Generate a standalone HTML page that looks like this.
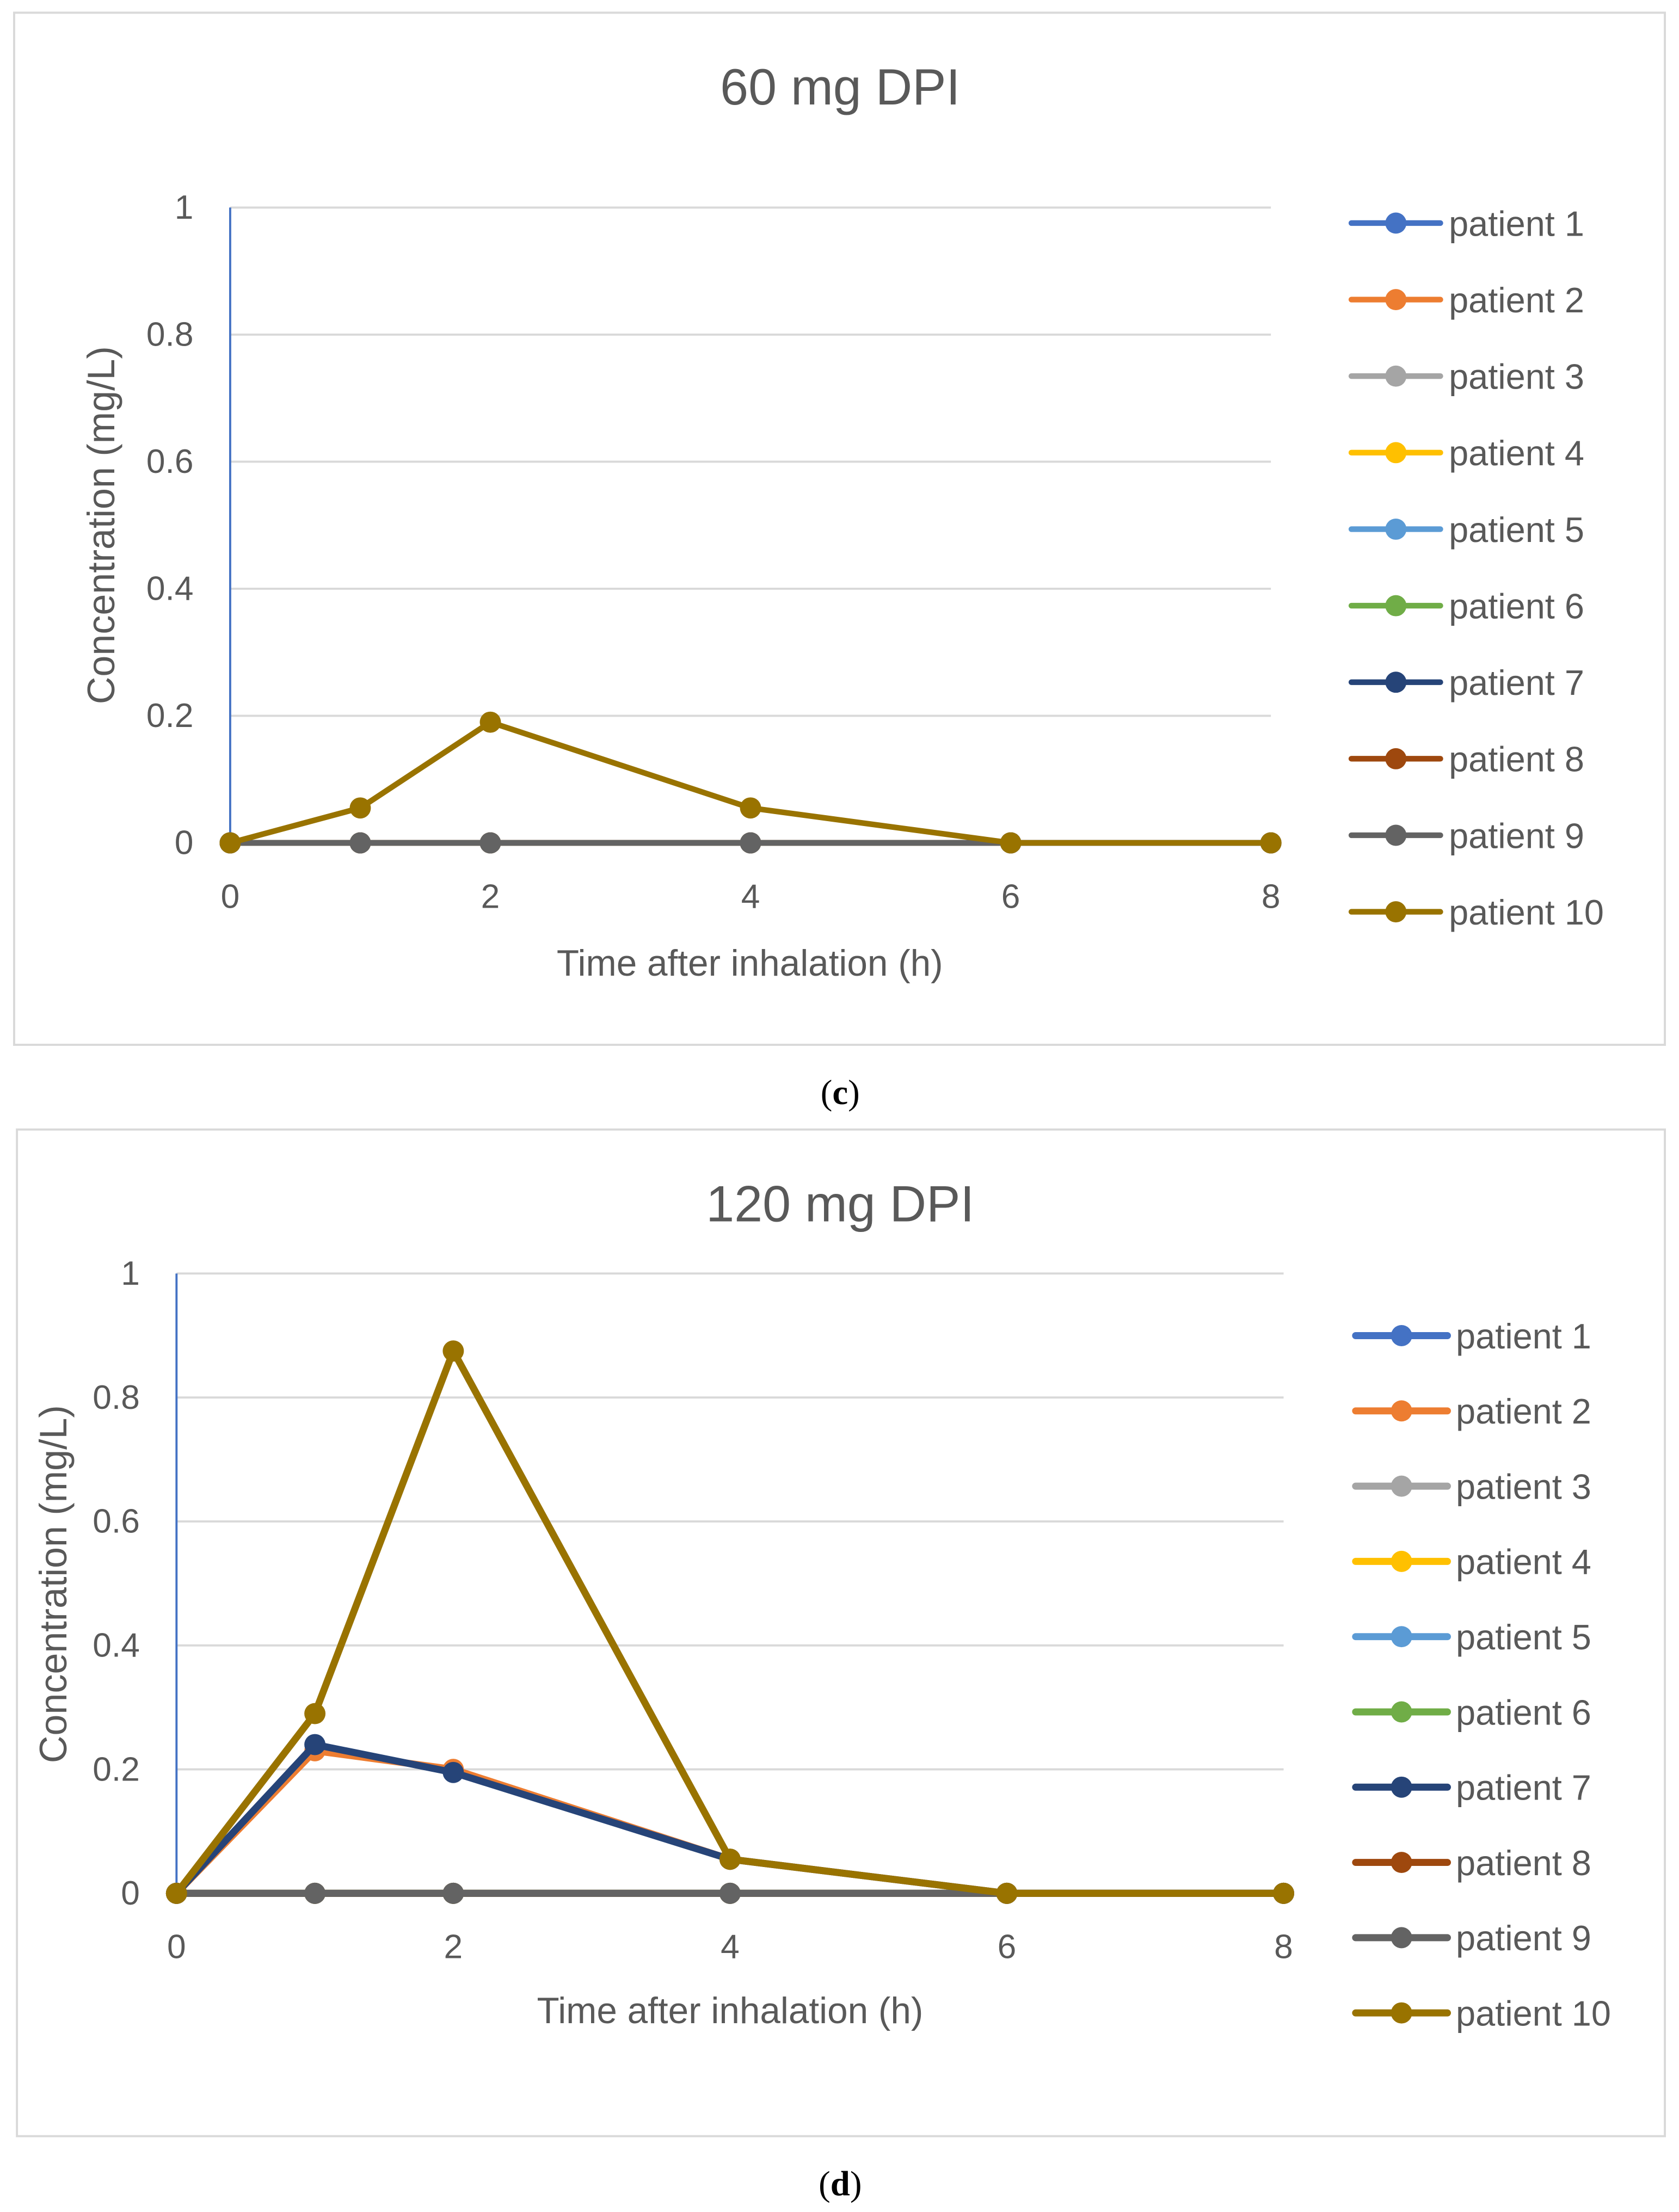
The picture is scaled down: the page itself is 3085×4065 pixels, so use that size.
<!DOCTYPE html>
<html><head><meta charset="utf-8"><style>
html,body{margin:0;padding:0;background:#fff;}
svg{display:block;}
text{font-family:"Liberation Sans",sans-serif;fill:#595959;}
</style></head><body>
<svg id="root" width="3085" height="4065" viewBox="0 0 1189 1566.7" preserveAspectRatio="none" xmlns="http://www.w3.org/2000/svg">
<rect x="0" y="0" width="1189" height="1567" fill="#fff"/>
<g id="chartC"></g>
<g id="chartD"></g>
<text x="595" y="782" text-anchor="middle" font-size="25" style="font-family:'Liberation Serif',serif;fill:#000">(<tspan font-weight="bold">c</tspan>)</text>
<text x="595" y="1555" text-anchor="middle" font-size="25" style="font-family:'Liberation Serif',serif;fill:#000">(<tspan font-weight="bold">d</tspan>)</text>
</svg>
<script>
const times = [0, 1, 2, 4, 6, 8];
const xTicks = [0, 2, 4, 6, 8];
const yTicks = [0, 0.2, 0.4, 0.6, 0.8, 1];
const yTickLabels = ["0", "0.2", "0.4", "0.6", "0.8", "1"];
const seriesNames = ["patient 1","patient 2","patient 3","patient 4","patient 5","patient 6","patient 7","patient 8","patient 9","patient 10"];
const seriesColors = ["#4472C4","#ED7D31","#A5A5A5","#FFC000","#5B9BD5","#70AD47","#264478","#9E480E","#636363","#997300"];
const zero = [0,0,0,0,0,0];
const c60_p10 = [0, 0.055, 0.19, 0.055, 0, 0];
const c120_p2 = [0, 0.23, 0.2, 0.055, 0, 0];
const c120_p7 = [0, 0.24, 0.195, 0.055, 0, 0];
const c120_p10 = [0, 0.29, 0.875, 0.055, 0, 0];
const valuesC = [zero,zero,zero,zero,zero,zero,zero,zero,zero,c60_p10];
const valuesD = [zero,c120_p2,zero,zero,zero,zero,c120_p7,zero,zero,c120_p10];

const NS = "http://www.w3.org/2000/svg";
function mk(parent, tag, attrs, txt){
  const e = document.createElementNS(NS, tag);
  for (const k in attrs) e.setAttribute(k, attrs[k]);
  if (txt !== undefined) e.textContent = txt;
  parent.appendChild(e);
  return e;
}

function drawChart(g, cfg, values){
  let e;
  e = mk(g, "rect", {x:cfg.fx, y:cfg.fy, width:cfg.fw, height:cfg.fh, fill:"#fff", stroke:"#d9d9d9", "stroke-width":1.5});
  
  
  const xs = v => cfg.x0 + (cfg.x1 - cfg.x0) * v / 8;
  const ys = v => cfg.y0 + (cfg.y1 - cfg.y0) * v;
  e = mk(g, "text", {x:cfg.titleX, y:cfg.titleY, "text-anchor":"middle", "font-size":36}, cfg.title);
  
  
  yTicks.forEach((t, i) => {
    if (t > 0) {
      const l = mk(g, "line", {x1:cfg.x0, x2:cfg.x1, y1:ys(t), y2:ys(t), stroke:"#d9d9d9", "stroke-width":1.5});
      
      
    }
    const tx = mk(g, "text", {x:cfg.x0 - 26, y:ys(t) + 8, "text-anchor":"end", "font-size":24}, yTickLabels[i]);
    
    
  });
  xTicks.forEach(t => {
    const tx = mk(g, "text", {x:xs(t), y:cfg.y0 + 46, "text-anchor":"middle", "font-size":24}, String(t));
    
    
  });
  e = mk(g, "line", {x1:cfg.x0, x2:cfg.x0, y1:cfg.y1, y2:cfg.y0, stroke:"#4472C4", "stroke-width":1.5});
  
  
  e = mk(g, "text", {x:cfg.xtX, y:cfg.xtY, "text-anchor":"middle", "font-size":26}, "Time after inhalation (h)");
  
  
  e = mk(g, "text", {x:0, y:0, "text-anchor":"middle", "font-size":27, transform:`translate(${cfg.ytX},${cfg.ytY}) rotate(-90)`}, "Concentration (mg/L)");
  
  
  values.forEach((vals, si) => {
    const sg = mk(g, "g", {});
    
    
    const pts = vals.map((v, i) => xs(times[i]) + "," + ys(v)).join(" ");
    const pl = mk(sg, "polyline", {points:pts, fill:"none", stroke:seriesColors[si], "stroke-width":cfg.lw, "stroke-linejoin":"round", "stroke-linecap":"round"});
    
    
    vals.forEach((v, i) => {
      const c = mk(sg, "circle", {cx:xs(times[i]), cy:ys(v), r:cfg.mr, fill:seriesColors[si]});
      
      
    });
  });
  seriesNames.forEach((n, i) => {
    const y = cfg.ly0 + i * cfg.lstep;
    const lg = mk(g, "g", {});
    
    
    mk(lg, "line", {x1:cfg.lx0, x2:cfg.lx1, y1:y, y2:y, stroke:seriesColors[i], "stroke-width":cfg.lw, "stroke-linecap":"round"});
    mk(lg, "circle", {cx:(cfg.lx0 + cfg.lx1) / 2, cy:y, r:cfg.mr, fill:seriesColors[i]});
    mk(lg, "text", {x:cfg.lx1 + 6, y:y + 9, "font-size":25}, n);
  });
}

drawChart(document.getElementById("chartC"), {
  fx:10, fy:9, fw:1169, fh:731, title:"60 mg DPI", titleX:595, titleY:74,
  x0:163, x1:900, y0:597, y1:147, xtX:531, xtY:691, ytX:81, ytY:372,
  lx0:957, lx1:1020, ly0:158, lstep:54.2, lw:4, mr:7.5
}, valuesC);
drawChart(document.getElementById("chartD"), {
  fx:12, fy:800, fw:1167, fh:713, title:"120 mg DPI", titleX:595, titleY:865,
  x0:125, x1:909, y0:1341, y1:902, xtX:517, xtY:1433, ytX:47, ytY:1122,
  lx0:960, lx1:1025, ly0:946, lstep:53.3, lw:5, mr:7.5
}, valuesD);
</script>
</body></html>
